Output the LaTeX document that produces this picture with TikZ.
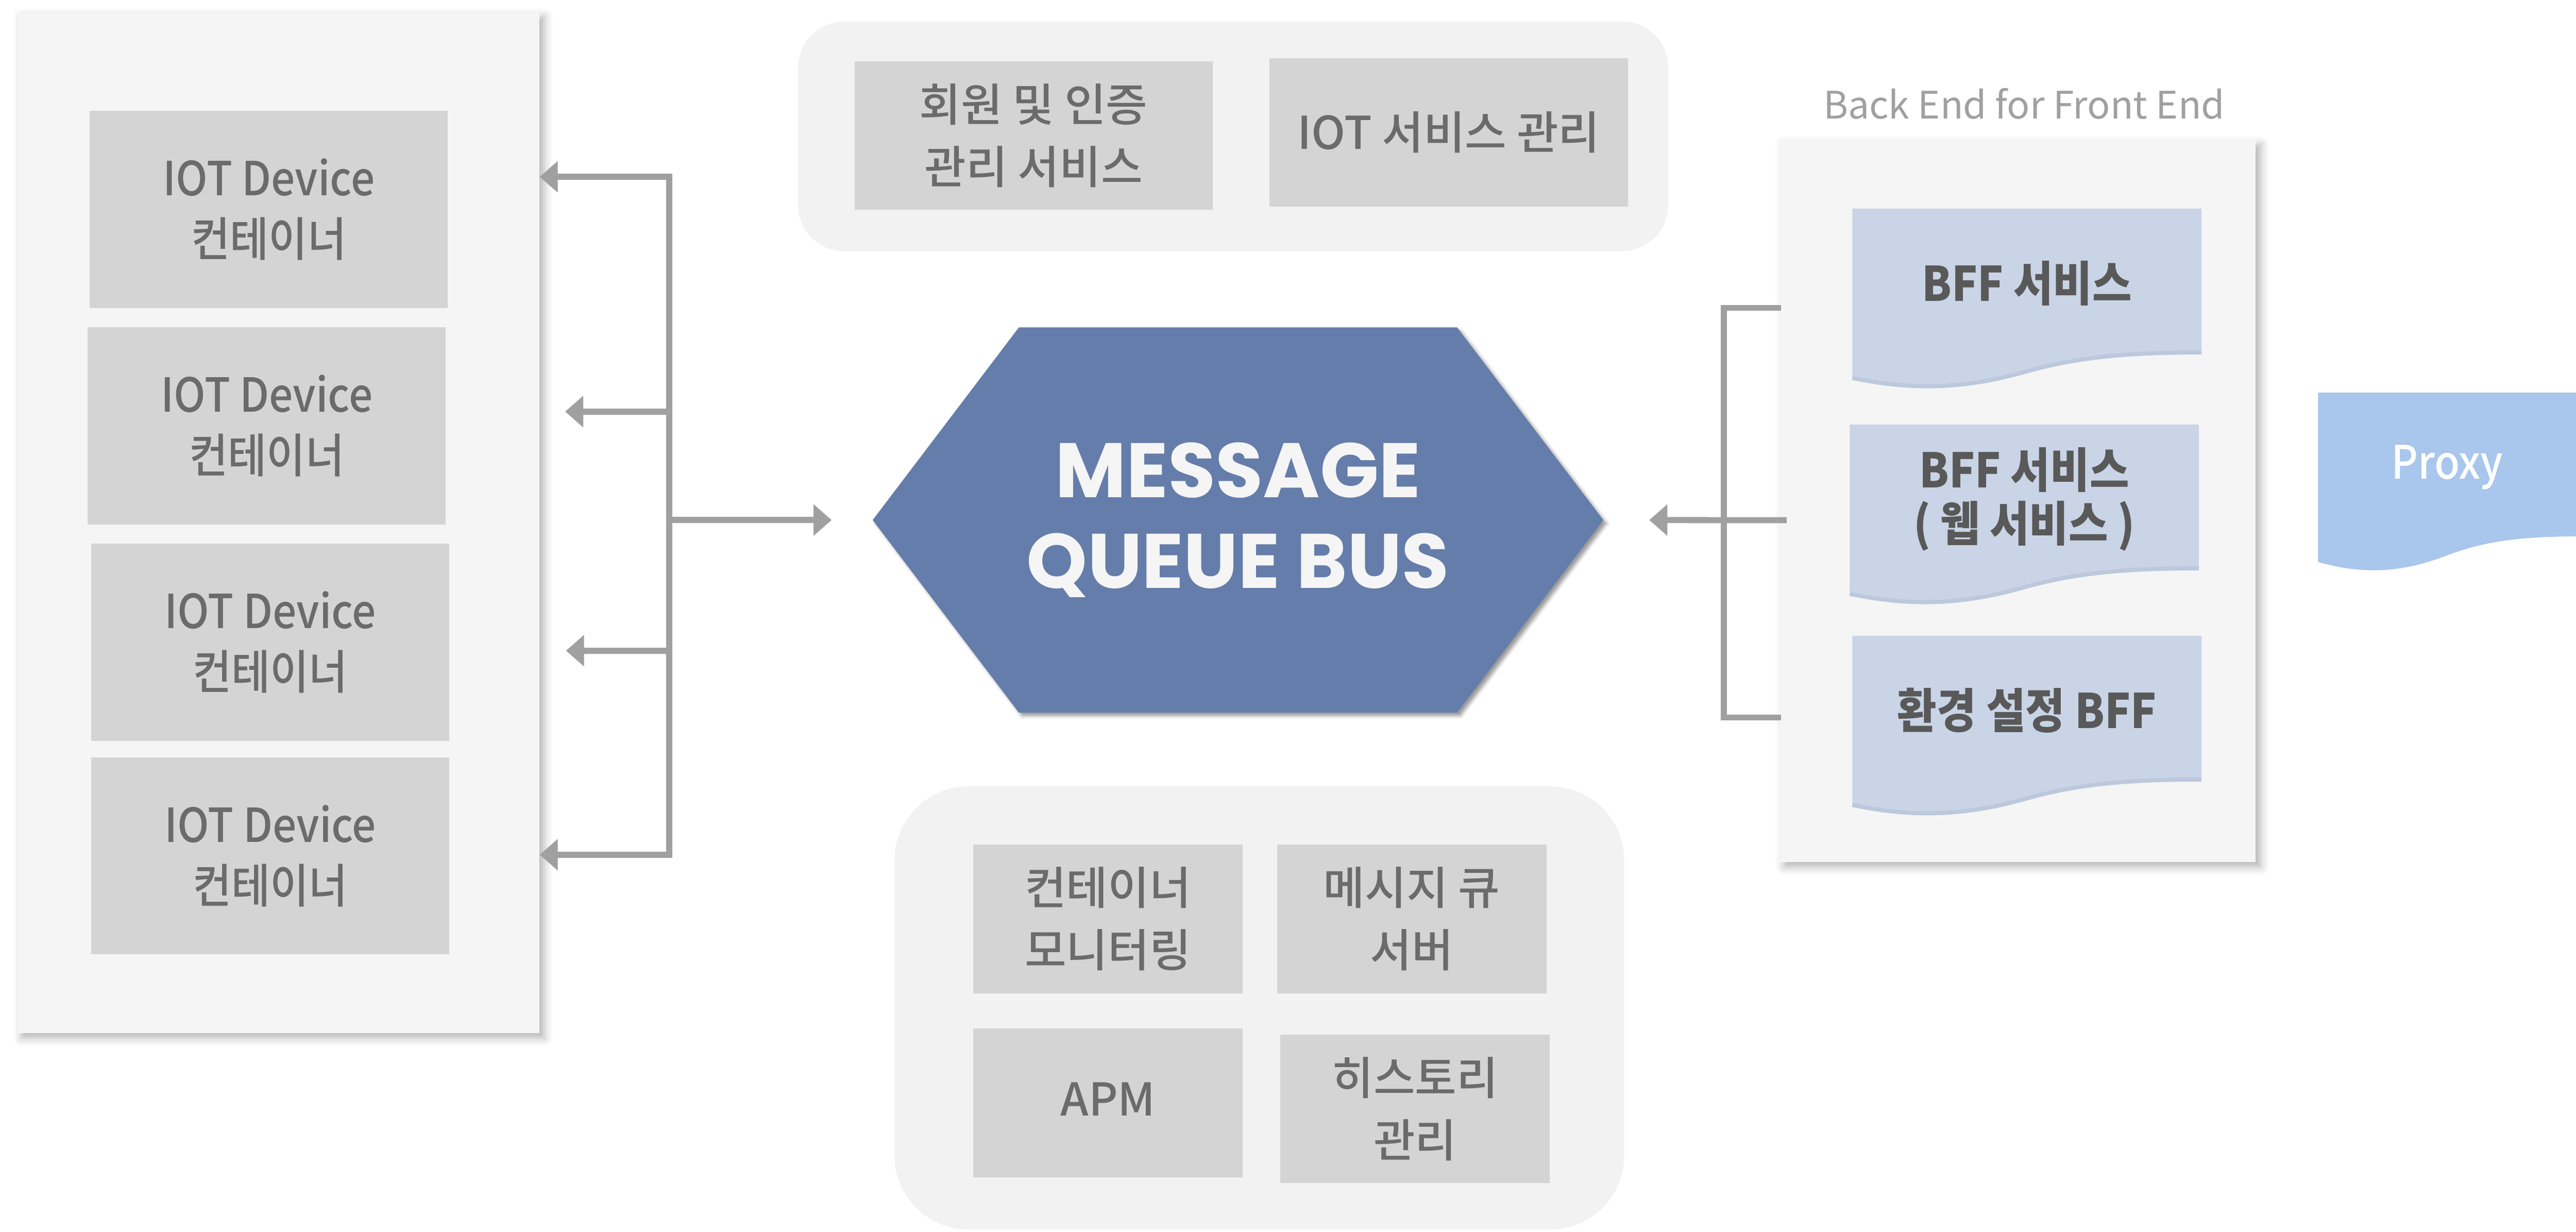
\documentclass[tikz,border=0pt]{standalone}
\usepackage{fontspec}
\setmainfont{Noto Sans CJK KR}
\newfontfamily\narrowfont{Noto Sans CJK KR}[FakeStretch=0.9]
\newfontfamily\medfont{Noto Sans CJK KR Medium}[FakeStretch=0.9]
\newfontfamily\medwide{Noto Sans CJK KR Medium}
\newfontfamily\busfont{Poppins}
\usetikzlibrary{arrows.meta,shadows.blur}
\definecolor{panelgray}{HTML}{F5F5F5}
\definecolor{roundgray}{HTML}{F2F2F2}
\definecolor{boxgray}{HTML}{D4D4D4}
\definecolor{textgray}{HTML}{6B6B6B}
\definecolor{bffgray}{HTML}{595959}
\definecolor{linegray}{HTML}{A0A0A0}
\definecolor{busblue}{HTML}{657DAA}
\definecolor{docblue}{HTML}{C9D4E6}
\definecolor{docedge}{HTML}{BCC8DD}
\definecolor{proxyblue}{HTML}{A9C6EC}
\newcommand{\two}[2]{#1\\#2}
% wavy document: name, left, top, width, fill style, edge style
\newcommand{\wavedoc}[6]{%
  \fill[#5] (#2,#3) -- (#2+#4,#3) -- (#2+#4,#3+87.5)
    .. controls (#2+0.8*#4,#3+87.5) and (#2+0.65*#4,#3+90) .. (#2+0.5*#4,#3+99)
    .. controls (#2+0.35*#4,#3+108) and (#2+0.2*#4,#3+112) .. (#2,#3+103) -- cycle;
  \draw[#6] (#2+#4,#3+87.5)
    .. controls (#2+0.8*#4,#3+87.5) and (#2+0.65*#4,#3+90) .. (#2+0.5*#4,#3+99)
    .. controls (#2+0.35*#4,#3+108) and (#2+0.2*#4,#3+112) .. (#2,#3+103);
  \coordinate (#1) at (#2+0.5*#4,#3+45.5);}

\begin{document}
\begin{tikzpicture}[x=1pt,y=-1pt,
  >={Triangle[length=11pt,width=18.5pt]},
  panel/.style={fill=panelgray,blur shadow={shadow xshift=3pt,shadow yshift=-3pt,shadow blur radius=5pt,shadow opacity=30}},
  roundpanel/.style={fill=roundgray},
  graybox/.style={fill=boxgray,text=textgray,align=center,font=\medwide\fontsize{27.5}{38}\selectfont},
  devbox/.style={graybox,minimum width=218pt,minimum height=120pt,font=\medfont\fontsize{28.5}{37}\selectfont},
  topbox/.style={graybox,minimum width=218pt,minimum height=90.5pt},
  botbox/.style={graybox,minimum width=164pt,minimum height=90.5pt},
  bfftext/.style={text=bffgray,align=center,font=\narrowfont\bfseries\fontsize{29}{32.6}\selectfont},
  conn/.style={draw=linegray,line width=3.7pt},
  arr/.style={conn,->},
  arrboth/.style={conn,<->}]
\useasboundingbox (0,0) rectangle (1568,749.8);
\clip (0,0) rectangle (1568,749.8);

% device containers
\node[panel,minimum width=318pt,minimum height=621.5pt] (devPanel) at (169.3,317.95) {};
\node[devbox] (dev1) at (163.65,127.4) {\two{IOT Device}{컨테이너}};
\node[devbox] (dev2) at (162.4,259.15) {\two{IOT Device}{컨테이너}};
\node[devbox] (dev3) at (164.5,390.85) {\two{IOT Device}{컨테이너}};
\node[devbox] (dev4) at (164.5,520.9) {\two{IOT Device}{컨테이너}};

% top services
\node[roundpanel,rounded corners=28pt,minimum width=529.6pt,minimum height=139.7pt] (topPanel) at (750.6,82.95) {};
\node[topbox] (auth) at (629.15,82.45) {\two{회원 및 인증}{관리 서비스}};
\node[topbox] (iotSvc) at (881.85,80.6) {IOT 서비스 관리};

% bottom services
\node[roundpanel,rounded corners=45pt,minimum width=444.1pt,minimum height=269.7pt] (botPanel) at (766.55,613.45) {};
\node[botbox] (monitor) at (674.4,559.3) {\two{컨테이너}{모니터링}};
\node[botbox] (mqServer) at (859.3,559.3) {\two{메시지 큐}{서버}};
\node[botbox] (apm) at (674.4,671.3) {\raisebox{5pt}{APM}};
\node[botbox] (history) at (861.4,674.8) {\two{히스토리}{관리}};

% message queue bus
\node[minimum width=444.3pt,minimum height=234.1pt] (bus) at (753.55,316.5) {};
\fill[busblue,blur shadow={shadow xshift=2pt,shadow yshift=-2pt,shadow blur radius=2pt,shadow opacity=40}]
  (bus.west) -- ([xshift=89pt]bus.north west) -- ([xshift=-89pt]bus.north east) -- (bus.east)
  -- ([xshift=-89pt]bus.south east) -- ([xshift=89pt]bus.south west) -- cycle;
\node[text=panelgray,align=center,font=\busfont\bfseries\fontsize{47}{55}\selectfont] (busLabel) at (bus) {MESSAGE\\QUEUE BUS};

% back end for front end
\node[text=linegray,font=\fontsize{23}{28}\selectfont] (bffTitle) at (1232,63) {Back End for Front End};
\node[panel,minimum width=290pt,minimum height=439.6pt] (bffPanel) at (1228,304.8) {};
\wavedoc{d1}{1127.5}{127}{212.5}{docblue}{docedge,line width=2.5pt}
\wavedoc{d2}{1125.9}{258.4}{212.5}{docblue}{docedge,line width=2.5pt}
\wavedoc{d3}{1127.5}{386.9}{212.5}{docblue}{docedge,line width=2.5pt}
\node[bfftext] (bff1) at (d1) {BFF 서비스};
\node[bfftext] (bff2) at (d2) {\two{BFF 서비스}{( 웹 서비스 )}};
\node[bfftext] (bff3) at (d3) {환경 설정 BFF};

% proxy
\wavedoc{px}{1411}{239}{157}{proxyblue}{draw=none}
\node[text=white,font=\medfont\fontsize{28}{32}\selectfont] (proxy) at (px) {Proxy};

% connectors left
\coordinate (c1) at (407.4,107.6);
\coordinate (c4) at (407.4,520.2);
\coordinate (t2) at (344,250.5);
\coordinate (t3) at (344.5,396);
\draw[arrboth] (devPanel.east |- c1) -- (c1) -- (c4) -- (devPanel.east |- c4);
\draw[arr] (c1 |- t2) -- (t2);
\draw[arr] (c1 |- t3) -- (t3);
\draw[arr] (c1 |- bus.west) -- ([xshift=-25pt]bus.west);

% connectors right
\coordinate (bv) at (1049.2,316.6);
\coordinate (b1) at (1084.2,187.4);
\coordinate (b3) at (1084.2,436.7);
\coordinate (bm) at (1087.5,316.6);
\draw[conn] (b1) -| (bv) |- (b3);
\draw[arr] (bm) -- ([xshift=28pt]bus.east);
\end{tikzpicture}
\end{document}
